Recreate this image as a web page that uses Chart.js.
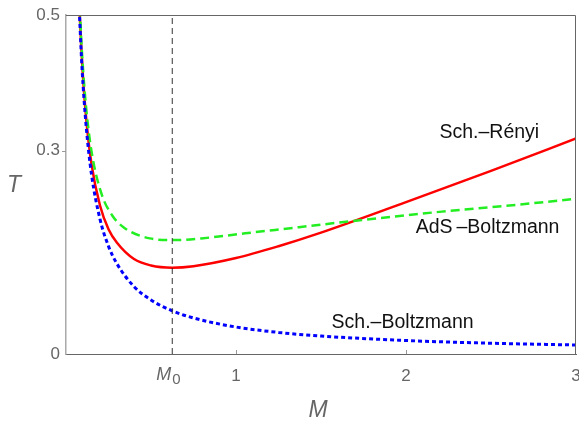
<!DOCTYPE html>
<html>
<head>
<meta charset="utf-8">
<script src="https://cdn.jsdelivr.net/npm/chart.js@4.4.0/dist/chart.umd.min.js"></script>
<style>
  html, body { margin: 0; padding: 0; background: #fff; }
  #wrap { width: 579px; height: 421px; }
</style>
</head>
<body>
<div id="wrap"><canvas id="grafico"></canvas></div>
<script>
//---------------
// Datos
//---------------
const M0 = 0.625;

const masaBoltz = [0.08, 0.09, 0.1, 0.12, 0.15, 0.2, 0.25, 0.3, 0.4, 0.5, 0.625, 0.75, 1, 1.25, 1.5, 2, 2.5, 3];
const tempBoltz = [0.497, 0.442, 0.398, 0.332, 0.265, 0.199, 0.159, 0.133, 0.0995, 0.0796, 0.0637, 0.0531, 0.0398, 0.0318, 0.0265, 0.0199, 0.0159, 0.0133];

const masaRenyi = [0.08, 0.09, 0.1, 0.12, 0.15, 0.2, 0.25, 0.3, 0.4, 0.5, 0.625, 0.75, 1, 1.25, 1.5, 2, 2.5, 3];
const tempRenyi = [0.505, 0.451, 0.408, 0.344, 0.280, 0.219, 0.184, 0.164, 0.140, 0.1305, 0.1273, 0.1295, 0.1416, 0.159, 0.179, 0.224, 0.270, 0.318];

const masaAdS = [0.081, 0.091, 0.1015, 0.1225, 0.155, 0.212, 0.273, 0.340, 0.494, 0.633, 0.795, 1.054, 1.370, 1.753, 2.211, 2.752, 3.0];
const tempAdS = [0.511, 0.458, 0.4155, 0.3526, 0.2916, 0.234, 0.204, 0.1865, 0.1705, 0.168, 0.1705, 0.178, 0.187, 0.198, 0.210, 0.2225, 0.229];

const ticksX = [M0, 1, 2, 3];
const ticksY = [0, 0.3, 0.5];

const etiquetas = [
  { texto: 'Sch.\u2013R\u00e9nyi', x: 2.49, y: 0.327 },
  { texto: 'AdS\u2009\u2013Boltzmann', x: 2.48, y: 0.187 },
  { texto: 'Sch.\u2013Boltzmann', x: 1.98, y: 0.047 }
];

const FUENTE = '"Liberation Sans", Arial, sans-serif';
const puntos = (xs, ys) => xs.map((x, i) => ({ x: x, y: ys[i] }));

//---------------
// Plugin: marco, ticks, titulos y etiquetas
//---------------
const extras = {
  id: 'extras',
  afterDraw(chart) {
    const { ctx, chartArea: a, scales: { x, y } } = chart;
    ctx.save();

    // marco superior y derecho
    ctx.strokeStyle = '#666';
    ctx.lineWidth = 1;
    ctx.beginPath();
    ctx.moveTo(a.left, a.top + 0.5);
    ctx.lineTo(a.right - 0.5, a.top + 0.5);
    ctx.lineTo(a.right - 0.5, a.bottom);
    ctx.stroke();

    // ticks pequenos
    ctx.strokeStyle = '#999';
    [1, 2].forEach(v => {
      const px = Math.round(x.getPixelForValue(v)) + 0.5;
      ctx.beginPath();
      ctx.moveTo(px, a.bottom);
      ctx.lineTo(px, a.bottom - 4);
      ctx.stroke();
    });
    const py = Math.round(y.getPixelForValue(0.3)) + 0.5;
    ctx.beginPath();
    ctx.moveTo(a.left, py);
    ctx.lineTo(a.left - 4, py);
    ctx.stroke();

    // M0 en el eje x
    ctx.fillStyle = '#666';
    ctx.textBaseline = 'middle';
    const mx = x.getPixelForValue(M0);
    ctx.font = 'italic 18px ' + FUENTE;
    ctx.textAlign = 'right';
    ctx.fillText('M', mx - 1, a.bottom + 21);
    ctx.font = '15px ' + FUENTE;
    ctx.textAlign = 'left';
    ctx.fillText('0', mx + 0, a.bottom + 26);

    // titulos de ejes
    ctx.font = 'italic 23px ' + FUENTE;
    ctx.textAlign = 'center';
    ctx.fillText('T', 14, 186);
    ctx.fillText('M', 318, 411);

    // etiquetas de curvas
    ctx.fillStyle = '#111';
    ctx.font = '19.5px ' + FUENTE;
    ctx.textAlign = 'center';
    etiquetas.forEach(e => {
      ctx.fillText(e.texto, x.getPixelForValue(e.x), y.getPixelForValue(e.y));
    });

    ctx.restore();
  }
};

//---------------
// Grafico
//---------------
new Chart(document.getElementById('grafico'), {
  type: 'scatter',
  data: {
    datasets: [
      {
        label: 'M0',
        data: [{ x: M0, y: 0 }, { x: M0, y: 0.5 }],
        showLine: true, borderColor: '#333', borderWidth: 1, borderDash: [6, 4],
        pointRadius: 0, tension: 0
      },
      {
        label: 'Sch.-Boltzmann',
        data: puntos(masaBoltz, tempBoltz),
        showLine: true, borderColor: '#0000ff', borderWidth: 3, borderDash: [4, 3],
        pointRadius: 0, cubicInterpolationMode: 'monotone'
      },
      {
        label: 'AdS-Boltzmann',
        data: puntos(masaAdS, tempAdS),
        showLine: true, borderColor: '#22ee22', borderWidth: 2.5, borderDash: [9, 5],
        pointRadius: 0, cubicInterpolationMode: 'monotone'
      },
      {
        label: 'Sch.-Renyi',
        data: puntos(masaRenyi, tempRenyi),
        showLine: true, borderColor: '#ff0000', borderWidth: 2.5,
        pointRadius: 0, cubicInterpolationMode: 'monotone'
      }
    ]
  },
  options: {
    responsive: true,
    maintainAspectRatio: false,
    animation: false,
    layout: { padding: { top: 15, right: 3, left: 0, bottom: 0 } },
    plugins: { legend: { display: false }, tooltip: { enabled: false } },
    scales: {
      x: {
        type: 'linear', min: 0, max: 3,
        afterBuildTicks: s => { s.ticks = ticksX.map(v => ({ value: v })); },
        afterFit: s => { s.height = 67; s.paddingRight = 0; s.paddingLeft = 0; },
        grid: { display: false, drawTicks: false },
        border: { color: '#666', width: 1 },
        ticks: {
          padding: 12, color: '#666', maxRotation: 0, autoSkip: false,
          font: { family: FUENTE, size: 17 },
          callback: v => (v === M0 ? '' : String(v))
        }
      },
      y: {
        type: 'linear', min: 0, max: 0.5,
        afterBuildTicks: s => { s.ticks = ticksY.map(v => ({ value: v })); },
        afterFit: s => { s.width = 66; s.paddingTop = 0; s.paddingBottom = 0; },
        grid: { display: false, drawTicks: false },
        border: { color: '#aaa', width: 1.5 },
        ticks: {
          padding: 6, color: '#666',
          font: { family: FUENTE, size: 17 },
          callback: v => String(v)
        }
      }
    }
  },
  plugins: [extras]
});
</script>
</body>
</html>
